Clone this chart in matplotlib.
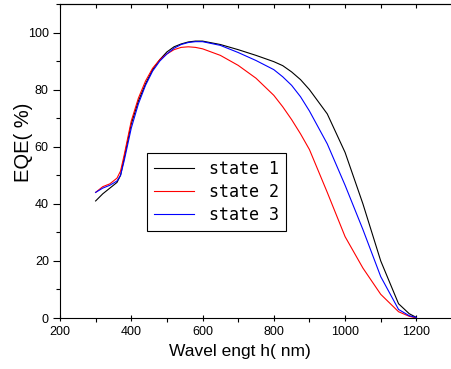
import matplotlib
matplotlib.use('Agg')
import matplotlib.pyplot as plt
from matplotlib.ticker import MultipleLocator

plt.rcParams['font.family'] = ['Liberation Sans', 'DejaVu Sans']

# wavelength grid (nm)
wl = [300, 320, 340, 360, 370, 380, 400, 420, 440, 460, 480, 500, 520, 540,
      560, 580, 600, 650, 700, 750, 800, 825, 850, 875, 900, 950, 1000,
      1050, 1100, 1150, 1180, 1200]

state1 = [41, 43.5, 45.5, 47.5, 50, 56, 68, 76, 82, 87, 90.5, 93.2, 95, 96,
          96.7, 97, 97, 95.8, 94, 92, 89.8, 88.4, 86.2, 83.5, 80, 71.5,
          58, 40, 20, 5, 1.5, 0.2]
state2 = [44, 46, 47, 49, 51.5, 57, 69, 77, 83, 87.5, 90.5, 92.5, 94, 94.8,
          95, 94.8, 94.3, 92, 88.5, 84, 78, 74, 69.5, 64.5, 59, 44, 28.5,
          17.5, 8.3, 2.2, 0.6, 0]
state3 = [44, 45.5, 46.5, 48, 50, 55, 66.5, 75, 81.5, 86.5, 90, 92.5, 94.5,
          95.8, 96.5, 96.8, 96.8, 95.5, 93, 90.2, 87, 84.5, 81.5, 77.5, 72.5,
          61, 46.5, 31, 14.5, 3, 0.8, 0.2]

labels = ['state 1', 'state 2', 'state 3']
colors = ['black', 'red', 'blue']

fig = plt.figure(figsize=(4.52, 3.69), dpi=100)
ax = fig.add_axes([0.1327, 0.1382, 0.8673, 0.851])

for ys, lab, c in zip([state1, state2, state3], labels, colors):
    ax.plot(wl, ys, color=c, lw=0.8, label=lab)

ax.set_xlim(200, 1300)
ax.set_ylim(0, 110)
ax.xaxis.set_major_locator(MultipleLocator(200))
ax.xaxis.set_minor_locator(MultipleLocator(100))
ax.yaxis.set_major_locator(MultipleLocator(20))
ax.yaxis.set_minor_locator(MultipleLocator(10))
ax.spines['right'].set_visible(False)
ax.tick_params(axis='both', which='major', direction='out', length=5,
               width=0.8, labelsize=9, pad=3)
ax.tick_params(axis='both', which='minor', direction='out', length=3,
               width=0.8)
ax.tick_params(axis='x', which='major', direction='inout')

# inward ticks along the top
top = ax.secondary_xaxis('top')
top.xaxis.set_major_locator(MultipleLocator(100))
top.tick_params(direction='in', length=3, width=0.8, labeltop=False)

ax.set_xlabel('Wavel engt h( nm)', fontsize=12.5)
ax.xaxis.set_label_coords(0.458, -0.083)
ax.set_ylabel('EQE( %)', fontsize=14.5)
ax.yaxis.set_label_coords(-0.068, 0.56)

leg = ax.legend(loc='lower left', bbox_to_anchor=(0.2216, 0.277),
                borderaxespad=0, fancybox=False, framealpha=1,
                edgecolor='black', handlelength=2.4, handletextpad=0.9,
                labelspacing=0.3, borderpad=0.42,
                prop={'family': 'DejaVu Sans Mono', 'size': 12})
leg.get_frame().set_linewidth(0.8)

fig.savefig('out.png', dpi=100)
